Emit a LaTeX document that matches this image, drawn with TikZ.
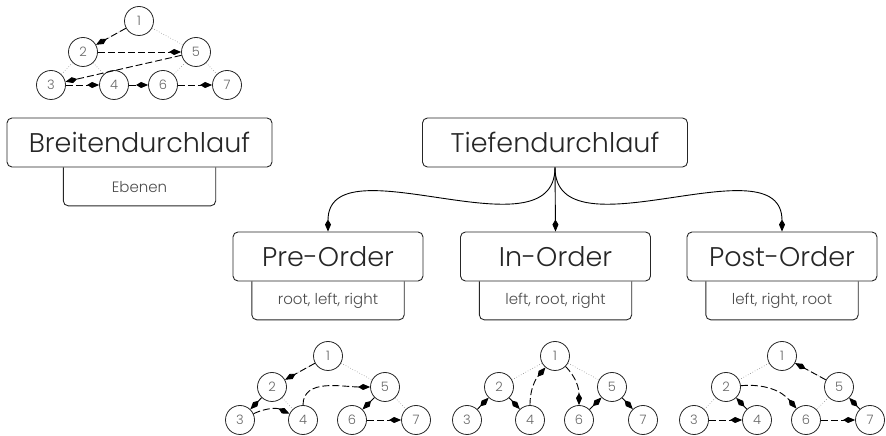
\documentclass[tikz,border=0pt]{standalone}
\usepackage{fontspec}
\setmainfont{Poppins Light}
\usetikzlibrary{arrows.meta,positioning}
\tikzset{
  mainbox/.style={draw=black!85, line width=0.9pt, rounded corners=5pt, inner sep=0pt,
    minimum width=265pt, minimum height=49pt, text=black!85, font=\fontsize{27}{30}\selectfont},
  orderbox/.style={mainbox, minimum width=190pt},
  subbox/.style={inner sep=0pt, minimum width=152pt, minimum height=38pt, text=black!70,
    font=\fontsize{15}{17}\selectfont},
  subline/.style={draw=black!85, line width=0.9pt, rounded corners=5pt},
  knot/.style={circle, draw=black!85, line width=0.8pt, minimum size=29pt, inner sep=0pt,
    text=black!60, font=\fontsize{13}{15}\selectfont},
  treeline/.style={black!45, line width=0.6pt, dotted},
  visit/.style={black, line width=0.9pt, dash pattern=on 7pt off 3pt,
    -{Kite[length=12pt,width=6pt,inset=5pt]}},
  branch/.style={black, line width=0.9pt, -{Kite[length=12pt,width=6pt,inset=5pt]}}
}
\begin{document}
\begin{tikzpicture}[x=1pt,y=1pt]
\useasboundingbox (0,0) rectangle (886,436);
\node[mainbox] (breit) at (139.5,293.5) {Breitendurchlauf};
\node[mainbox] (tief) at (555,293.5) {Tiefendurchlauf};
\node[orderbox] (pre) at (328,179.5) {Pre-Order};
\node[orderbox] (in) at (555.5,179.5) {In-Order};
\node[orderbox] (post) at (782,179.5) {Post-Order};
\node[subbox, below=0pt of breit] (ebenen) {Ebenen};
\node[subbox, below=0pt of pre] (prerule) {root, left, right};
\node[subbox, below=0pt of in] (inrule) {left, root, right};
\node[subbox, below=0pt of post] (postrule) {left, right, root};
\foreach \s in {ebenen,prerule,inrule,postrule}
  \draw[subline] (\s.north west) -- (\s.south west) -- (\s.south east) -- (\s.north east);
\draw[branch] (tief.south) to[out=-90,in=90] (pre.north);
\draw[branch] (tief.south) -- (in.north);
\draw[branch] (tief.south) to[out=-90,in=90] (post.north);
\foreach \t/\x/\y in {b/139/415,p/328/80,i/555/80,o/782/80}{
  \node[knot] (\t1) at (\x,\y) {1};
  \node[knot] (\t2) at (\x-56,\y-31) {2};
  \node[knot] (\t5) at (\x+57,\y-31) {5};
  \node[knot] (\t3) at (\x-88,\y-64) {3};
  \node[knot] (\t4) at (\x-25,\y-64) {4};
  \node[knot] (\t6) at (\x+24,\y-64) {6};
  \node[knot] (\t7) at (\x+88,\y-64) {7};
  \foreach \u/\v in {1/2,1/5,2/3,2/4,5/6,5/7}
    \draw[treeline] (\t\u) -- (\t\v);
}
\draw[visit] (b1) -- (b2);
\draw[visit] (b2) -- (b5);
\draw[visit] (b5) -- (b3);
\draw[visit] (b3) -- (b4);
\draw[visit] (b4) -- (b6);
\draw[visit] (b6) -- (b7);
\draw[visit] (p1) -- (p2);
\draw[visit] (p2) -- (p3);
\draw[visit] (p3) to[bend left=25] (p4);
\draw[visit] (p4) to[out=90,in=180] (p5);
\draw[visit] (p5) -- (p6);
\draw[visit] (p6) -- (p7);
\draw[visit] (i3) -- (i2);
\draw[visit] (i2) -- (i4);
\draw[visit] (i4) to[out=90,in=-130] (i1);
\draw[visit] (i1) to[out=-45,in=90] (i6);
\draw[visit] (i6) -- (i5);
\draw[visit] (i5) -- (i7);
\draw[visit] (o3) -- (o4);
\draw[visit] (o4) -- (o2);
\draw[visit] (o2) to[out=5,in=130] (o6);
\draw[visit] (o6) -- (o7);
\draw[visit] (o7) -- (o5);
\draw[visit] (o5) -- (o1);
\end{tikzpicture}
\end{document}
